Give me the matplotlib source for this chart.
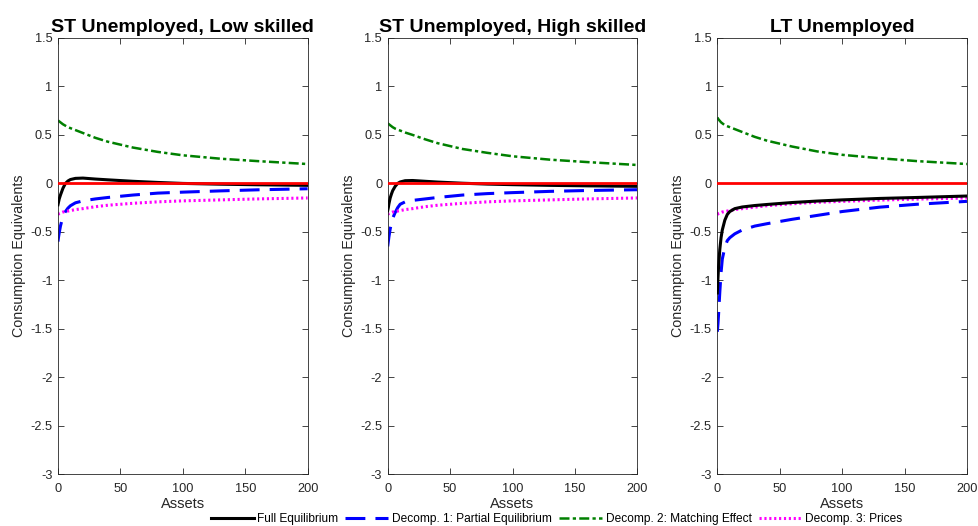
import matplotlib
matplotlib.use("Agg")
import matplotlib.pyplot as plt
import numpy as np

plt.rcParams['font.family'] = ['Liberation Sans', 'DejaVu Sans']

# asset grid (denser near zero where the curves bend)
assets = [0, 0.5, 1, 2, 3, 4, 6, 8, 10, 14, 20, 30, 40, 60, 80, 100, 130, 160, 200]

titles = ['ST Unemployed, Low skilled', 'ST Unemployed, High skilled', 'LT Unemployed']

# Full equilibrium
full_eq = [
    [-0.22, -0.19, -0.16, -0.12, -0.085, -0.05, 0.0, 0.025, 0.04, 0.052, 0.055, 0.045,
     0.037, 0.022, 0.01, 0.0, -0.008, -0.014, -0.02],
    [-0.28, -0.25, -0.21, -0.15, -0.11, -0.075, -0.03, 0.0, 0.015, 0.028, 0.03, 0.022,
     0.014, 0.002, -0.007, -0.013, -0.02, -0.025, -0.03],
    [-1.13, -0.98, -0.86, -0.68, -0.56, -0.48, -0.38, -0.32, -0.29, -0.26, -0.243, -0.228,
     -0.217, -0.197, -0.182, -0.17, -0.155, -0.145, -0.13],
]
# Decomp. 1: partial equilibrium
partial_eq = [
    [-0.6, -0.55, -0.51, -0.44, -0.39, -0.35, -0.29, -0.255, -0.23, -0.2, -0.18, -0.16,
     -0.145, -0.12, -0.1, -0.09, -0.077, -0.066, -0.055],
    [-0.65, -0.6, -0.55, -0.47, -0.41, -0.36, -0.3, -0.25, -0.215, -0.19, -0.175, -0.16,
     -0.145, -0.12, -0.105, -0.095, -0.082, -0.073, -0.065],
    [-1.53, -1.45, -1.35, -1.12, -0.92, -0.78, -0.66, -0.59, -0.56, -0.52, -0.48, -0.44,
     -0.415, -0.37, -0.33, -0.29, -0.245, -0.215, -0.185],
]
# Decomp. 2: matching effect
matching = [
    [0.65, 0.645, 0.64, 0.63, 0.62, 0.61, 0.595, 0.58, 0.57, 0.55, 0.52, 0.47,
     0.43, 0.37, 0.325, 0.29, 0.255, 0.23, 0.2],
    [0.62, 0.615, 0.61, 0.6, 0.59, 0.58, 0.565, 0.555, 0.545, 0.525, 0.5, 0.455,
     0.415, 0.355, 0.315, 0.28, 0.245, 0.22, 0.19],
    [0.68, 0.67, 0.66, 0.645, 0.63, 0.62, 0.6, 0.59, 0.58, 0.56, 0.53, 0.48,
     0.44, 0.38, 0.33, 0.295, 0.26, 0.23, 0.2],
]
# Decomp. 3: prices
prices = [
    [-0.32, -0.315, -0.31, -0.305, -0.3, -0.295, -0.29, -0.285, -0.28, -0.27, -0.26, -0.24,
     -0.225, -0.205, -0.19, -0.18, -0.17, -0.16, -0.15],
    [-0.32, -0.315, -0.31, -0.305, -0.3, -0.295, -0.29, -0.285, -0.28, -0.27, -0.26, -0.24,
     -0.225, -0.205, -0.19, -0.18, -0.17, -0.16, -0.15],
    [-0.32, -0.315, -0.31, -0.305, -0.3, -0.295, -0.29, -0.285, -0.28, -0.27, -0.26, -0.245,
     -0.23, -0.21, -0.195, -0.185, -0.172, -0.162, -0.15],
]

xticks = [0, 50, 100, 150, 200]
yticks = [-3, -2.5, -2, -1.5, -1, -0.5, 0, 0.5, 1, 1.5]
ytick_labels = ['-3', '-2.5', '-2', '-1.5', '-1', '-0.5', '0', '0.5', '1', '1.5']

fig = plt.figure(figsize=(9.79, 5.26), dpi=100)
lefts = [0.0592, 0.396, 0.7327]
axis_col = '0.15'

handles = []
for k in range(3):
    ax = fig.add_axes([lefts[k], 0.0983, 0.255, 0.8295])
    h2, = ax.plot(assets, partial_eq[k], color='blue', lw=2.2, dashes=(6.5, 3.3), zorder=2)
    h3, = ax.plot(assets, matching[k], color=(0, 0.5, 0), lw=1.8,
                  dashes=(4, 1.3, 1.3, 1.3), zorder=2)
    h4, = ax.plot(assets, prices[k], color='magenta', lw=2.2, dashes=(0.7, 0.9), zorder=2)
    h1, = ax.plot(assets, full_eq[k], color='black', lw=2.2, zorder=3)
    ax.plot([0, 200], [0, 0], color='red', lw=2, zorder=4)
    handles = [h1, h2, h3, h4]

    ax.set_xlim(0, 200)
    ax.set_ylim(-3, 1.5)
    ax.set_xticks(xticks)
    ax.set_xticklabels([str(t) for t in xticks])
    ax.set_yticks(yticks)
    ax.set_yticklabels(ytick_labels)
    ax.tick_params(direction='in', top=True, right=True, length=4, width=0.6,
                   labelsize=9.2, colors=axis_col)
    ax.tick_params(axis='x', pad=6.5)
    ax.tick_params(axis='y', pad=4)
    for sp in ax.spines.values():
        sp.set_color(axis_col)
        sp.set_linewidth(0.6)
    ax.set_title(titles[k], fontsize=14, fontweight='bold', pad=4)
    ax.set_xlabel('Assets', fontsize=10.5, color=axis_col, labelpad=1)
    ax.set_ylabel('Consumption Equivalents', fontsize=10.3, color=axis_col, labelpad=3)

fig.legend(handles, ['Full Equilibrium', 'Decomp. 1: Partial Equilibrium',
                     'Decomp. 2: Matching Effect', 'Decomp. 3: Prices'],
           loc='center', bbox_to_anchor=(0.5685, 0.0125), ncol=4, frameon=False,
           fontsize=8.6, handlelength=3.6, handletextpad=0.3, columnspacing=0.6,
           borderpad=0)

fig.savefig('out.png', dpi=100)
